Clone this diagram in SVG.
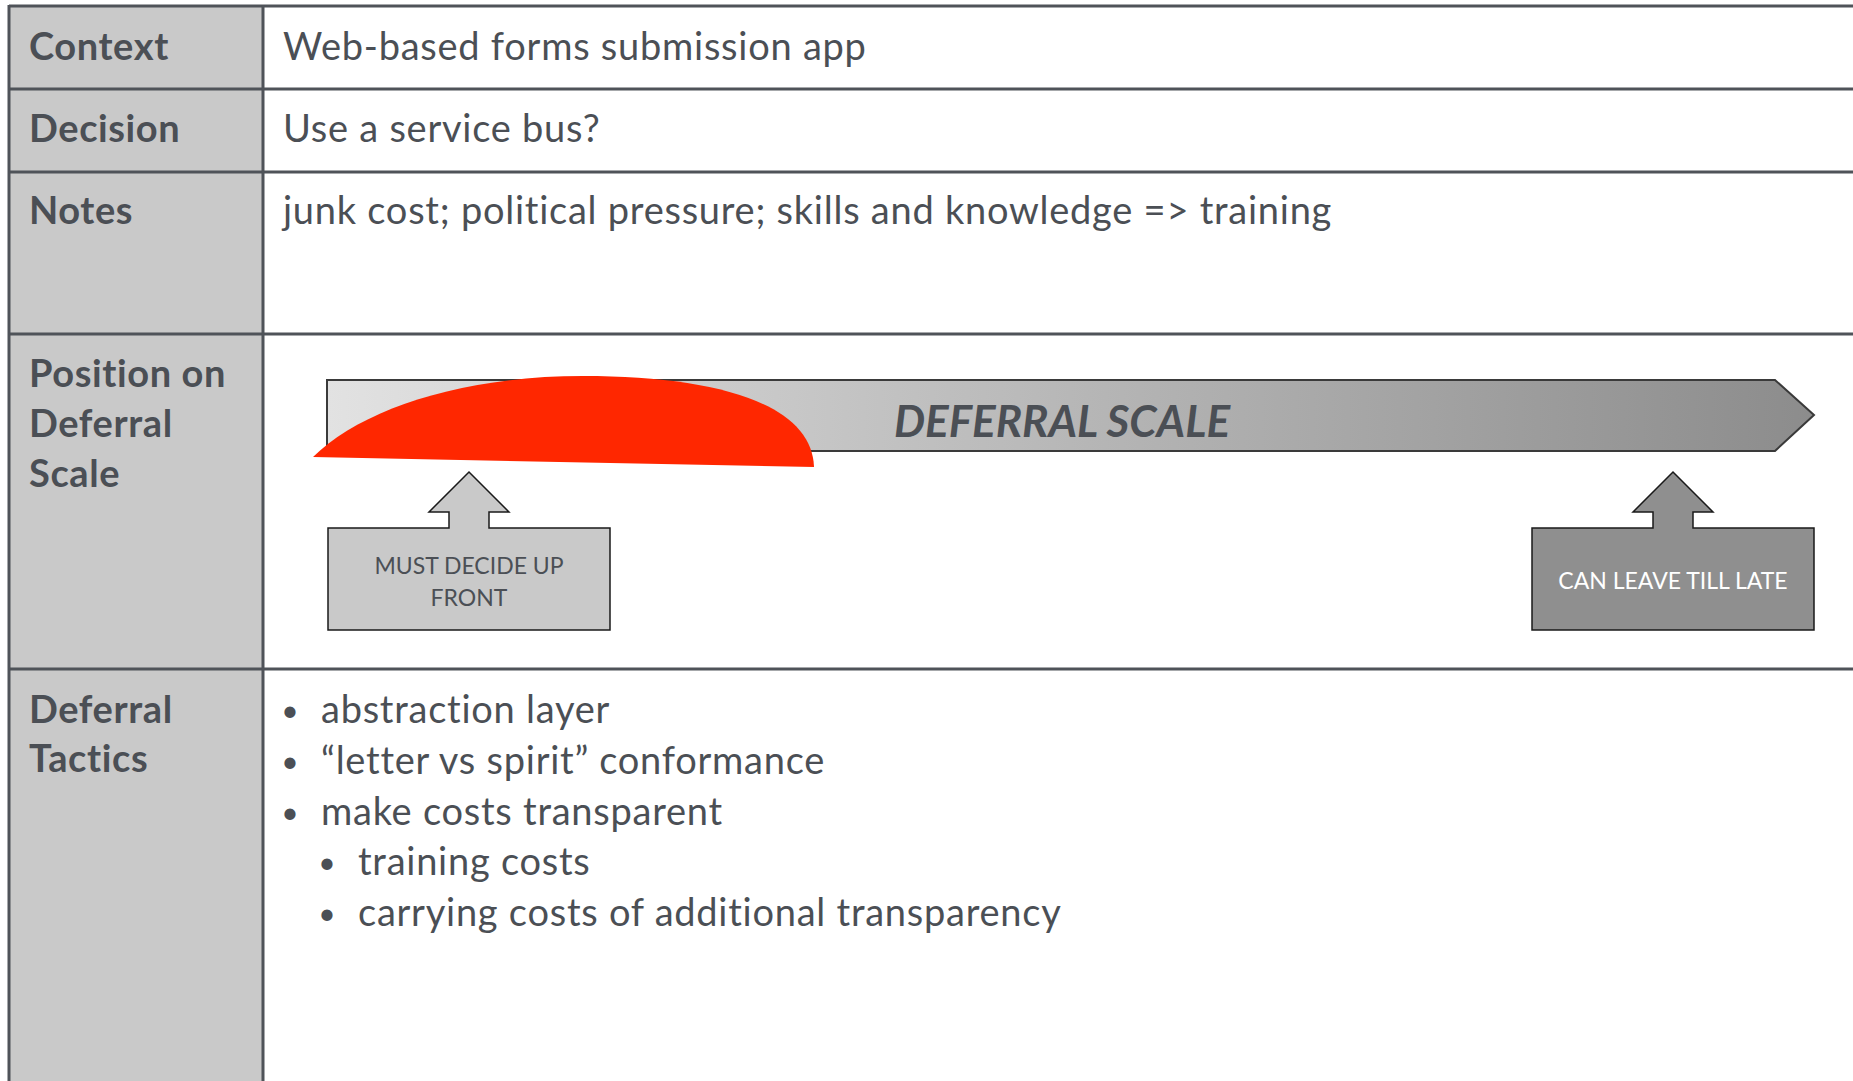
<svg xmlns="http://www.w3.org/2000/svg" width="1853" height="1081" viewBox="0 0 1853 1081">
<defs>
<linearGradient id="scaleGrad" x1="0" y1="0" x2="1" y2="0">
<stop offset="0" stop-color="#e2e2e2"/>
<stop offset="1" stop-color="#8c8c8c"/>
</linearGradient>
<style>
.hdr{font-family:Lato,"Liberation Sans",sans-serif;font-weight:bold;font-size:38px;letter-spacing:0.6px;fill:#4b4f55}
.body{font-family:Lato,"Liberation Sans",sans-serif;font-size:38px;letter-spacing:0.75px;fill:#4b4f55}
.bul{font-family:Lato,"Liberation Sans",sans-serif;font-size:30px;fill:#4b4f55;text-anchor:middle}
.grid{stroke:#4f5359;stroke-width:3;fill:none}
.lbl{font-family:Lato,"Liberation Sans",sans-serif;font-size:23px;text-anchor:middle}
.callout{stroke:#1a1a1a;stroke-width:1.5}
</style>
</defs>
<rect width="1853" height="1081" fill="#ffffff"/>
<g id="table">
<rect x="9" y="6" width="254" height="1080" fill="#c9c9c9"/>
<line class="grid" x1="9" y1="6" x2="1853" y2="6"/>
<line class="grid" x1="9" y1="89" x2="1853" y2="89"/>
<line class="grid" x1="9" y1="172" x2="1853" y2="172"/>
<line class="grid" x1="9" y1="334" x2="1853" y2="334"/>
<line class="grid" x1="9" y1="669" x2="1853" y2="669"/>
<line class="grid" x1="9" y1="5" x2="9" y2="1081"/>
<line class="grid" x1="263" y1="5" x2="263" y2="1081"/>
</g>
<g id="row-context">
<text class="hdr" x="29" y="60">Context</text>
<text class="body" x="283" y="60">Web-based forms submission app</text>
</g>
<g id="row-decision">
<text class="hdr" x="29" y="142">Decision</text>
<text class="body" x="283" y="142">Use a service bus?</text>
</g>
<g id="row-notes">
<text class="hdr" x="29" y="224">Notes</text>
<text class="body" x="283" y="224">junk cost; political pressure; skills and knowledge =&gt; training</text>
</g>
<g id="row-position">
<text class="hdr" x="29" y="387">Position on</text>
<text class="hdr" x="29" y="437">Deferral</text>
<text class="hdr" x="29" y="487">Scale</text>
</g>
<g id="deferral-scale">
<path d="M327,380 L1775,380 L1814,415 L1775,451 L327,451 Z" fill="url(#scaleGrad)" stroke="#3a3a3a" stroke-width="2"/>
<text x="1062" y="437" text-anchor="middle" font-family="Lato,'Liberation Sans',sans-serif" font-weight="bold" font-style="italic" font-size="44" fill="#4b4f55">DEFERRAL SCALE</text>
</g>
<g id="position-marker">
<path d="M313,457 C360,410 460,376 583,376 C720,376 812,405 814,467 Z" fill="#ff2700"/>
</g>
<g id="must-decide">
<path class="callout" d="M328,528 L449,528 L449,512 L429,512 L469,472 L509,512 L489,512 L489,528 L610,528 L610,630 L328,630 Z" fill="#c9c9c9"/>
<text class="lbl" x="469" y="574" fill="#4b4f55">MUST DECIDE UP</text>
<text class="lbl" x="469" y="606" fill="#4b4f55">FRONT</text>
</g>
<g id="can-leave">
<path class="callout" d="M1532,528 L1653,528 L1653,512 L1633,512 L1673,472 L1713,512 L1693,512 L1693,528 L1814,528 L1814,630 L1532,630 Z" fill="#8f8f8f"/>
<text class="lbl" x="1673" y="589" fill="#ffffff">CAN LEAVE TILL LATE</text>
</g>
<g id="row-tactics">
<text class="hdr" x="29" y="723">Deferral</text>
<text class="hdr" x="29" y="772">Tactics</text>
<text class="bul" x="290" y="721">•</text>
<text class="body" x="321" y="723">abstraction layer</text>
<text class="bul" x="290" y="772">•</text>
<text class="body" x="321" y="774">“letter vs spirit” conformance</text>
<text class="bul" x="290" y="823">•</text>
<text class="body" x="321" y="825">make costs transparent</text>
<text class="bul" x="327" y="873">•</text>
<text class="body" x="358" y="875">training costs</text>
<text class="bul" x="327" y="924">•</text>
<text class="body" x="358" y="926">carrying costs of additional transparency</text>
</g>
<g id="connectors"/>
</svg>
